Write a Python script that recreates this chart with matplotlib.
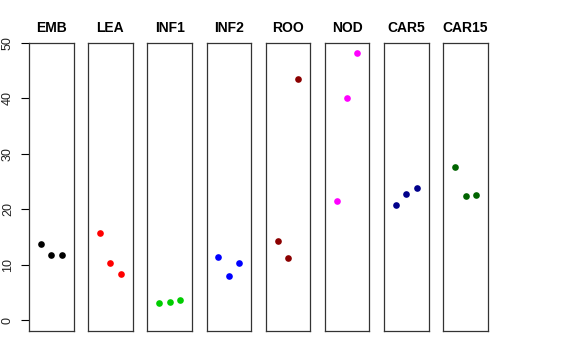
import matplotlib
matplotlib.use("Agg")
import matplotlib.pyplot as plt

# one panel per tissue, three replicate values each
tissues = ["EMB", "LEA", "INF1", "INF2", "ROO", "NOD", "CAR5", "CAR15"]
colors = ["#000000", "#FF0000", "#00CD00", "#0000FF", "#8B0000", "#FF00FF", "#00008B", "#006400"]

replicate = [1, 2, 3]
emb = [13.8, 11.75, 11.8]
lea = [15.7, 10.36, 8.3]
inf1 = [3.13, 3.3, 3.6]
inf2 = [11.4, 7.95, 10.36]
roo = [14.3, 11.2, 43.55]
nod = [21.6, 40.0, 48.2]
car5 = [20.8, 22.8, 23.8]
car15 = [27.7, 22.4, 22.65]
values = [emb, lea, inf1, inf2, roo, nod, car5, car15]

yticks = [0, 10, 20, 30, 40, 50]

plt.rcParams['font.family'] = ['Liberation Sans', 'DejaVu Sans']

fig = plt.figure(figsize=(5.76, 3.6), dpi=100)

W, H = 576.0, 360.0
left0, step, pw = 29.0, 59.18, 44.5
top, bottom = 43.0, 331.0

for i, (name, col, vals) in enumerate(zip(tissues, colors, values)):
    x0 = left0 + step * i
    ax = fig.add_axes([x0 / W, 1 - bottom / H, pw / W, (bottom - top) / H])
    ax.plot(replicate, vals, linestyle="none", marker="o", markersize=4.8,
            color=col, markeredgewidth=0)
    # R style limits: xlim c(0, 4), ylim c(0, 48.08) with 4% padding
    ax.set_xlim(-0.16, 4.16)
    ax.set_ylim(-1.92, 50.0)
    ax.set_xticks([])
    for s in ax.spines.values():
        s.set_linewidth(0.9)
        s.set_color("#333333")
    ax.set_title(name, fontsize=10, fontweight="bold", pad=8)
    if i == 0:
        ax.set_yticks(yticks)
        ax.tick_params(axis="y", direction="out", length=5.8, width=0.8,
                       labelsize=9, pad=5, colors="#000000", labelcolor="#222222")
        for lab in ax.get_yticklabels():
            lab.set_rotation(90)
            lab.set_va("center")
    else:
        ax.set_yticks([])

fig.savefig("out.png", dpi=100)
